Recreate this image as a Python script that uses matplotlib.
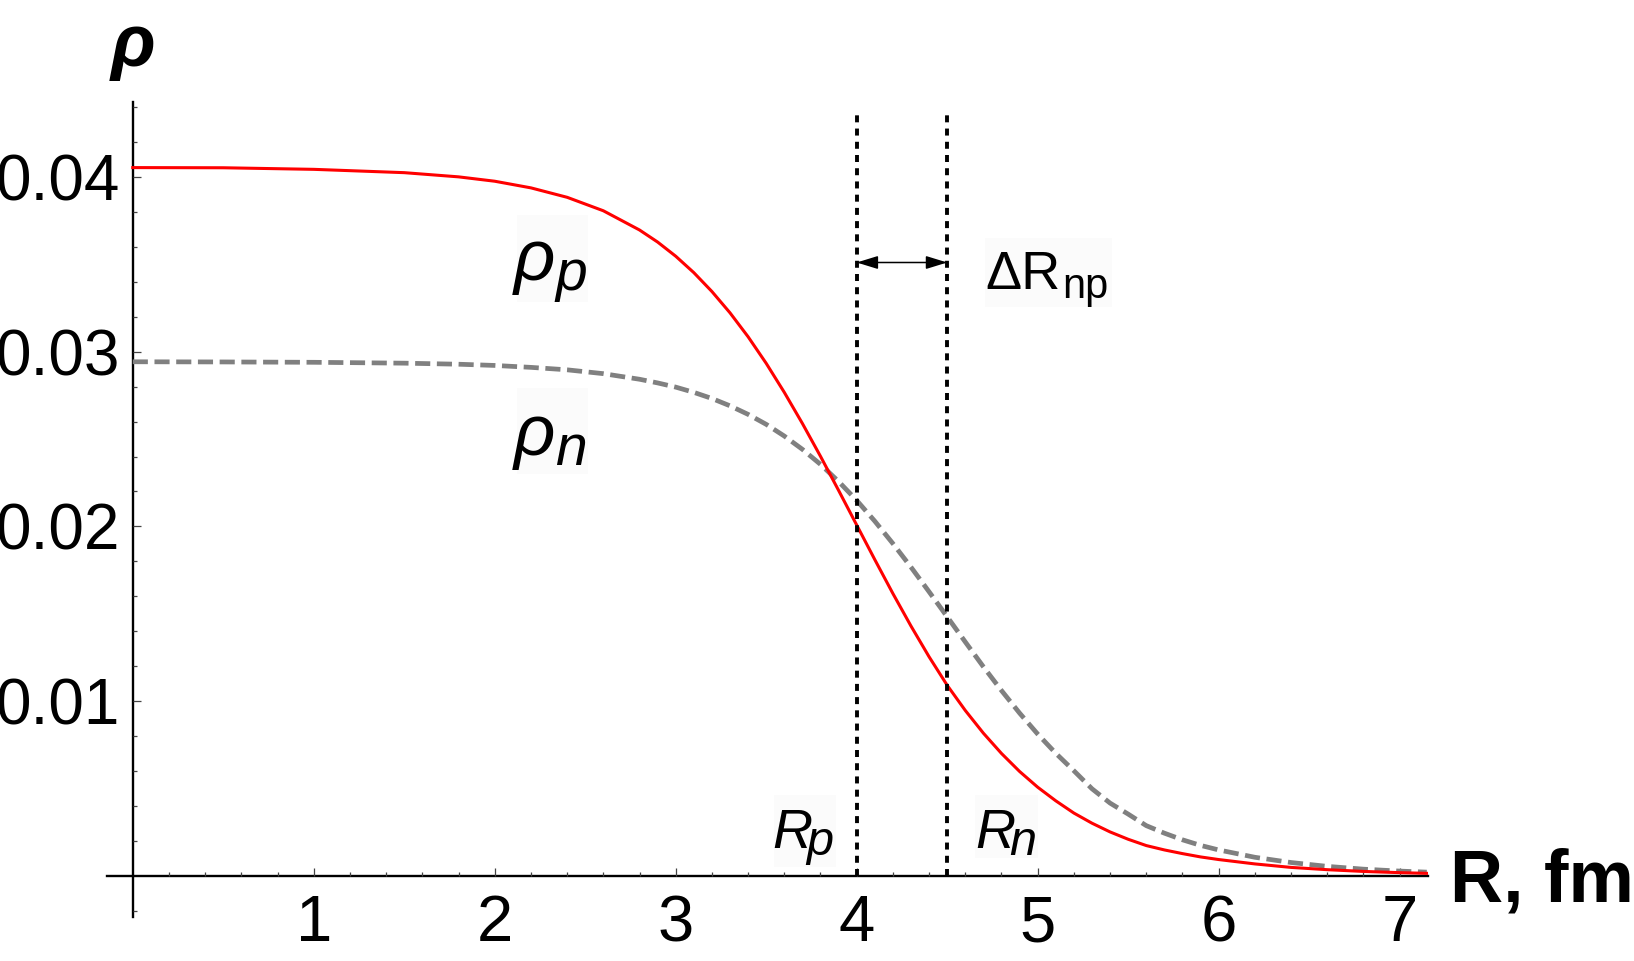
import numpy as np
import matplotlib
matplotlib.use("Agg")
import matplotlib.pyplot as plt
from matplotlib.ticker import FixedLocator, FixedFormatter, NullFormatter
from matplotlib.patches import Rectangle

# ---------------- data ----------------
r_fm = [0.0, 0.5, 1.0, 1.5, 1.8, 2.0, 2.2, 2.4, 2.6, 2.8, 2.9,
        3.0, 3.1, 3.2, 3.3, 3.4, 3.5, 3.6, 3.7, 3.8, 3.9,
        4.0, 4.1, 4.2, 4.3, 4.4, 4.5, 4.6, 4.7, 4.8, 4.9,
        5.0, 5.1, 5.2, 5.3, 5.4, 5.5, 5.6, 5.7, 5.8, 5.9,
        6.0, 6.2, 6.4, 6.6, 6.8, 7.0, 7.15]
rho_p = [0.04053, 0.04052, 0.04043, 0.04024, 0.04000, 0.03975, 0.03937,
         0.03883, 0.03806, 0.03696, 0.03627,
         0.03546, 0.03452, 0.03344, 0.03222, 0.03085, 0.02933, 0.02767,
         0.02589, 0.02401, 0.02206,
         0.02008, 0.01810, 0.01616, 0.01430, 0.01254, 0.01091, 0.00947,
         0.00817, 0.00701, 0.00598,
         0.00508, 0.00430, 0.00360, 0.00302, 0.00252, 0.00210, 0.00174,
         0.00149, 0.00128, 0.00109,
         0.00094, 0.00069, 0.00049, 0.00036, 0.00026, 0.00019, 0.00015]
rho_n = [0.02942, 0.02941, 0.02939, 0.02934, 0.02928, 0.02921, 0.02910,
         0.02896, 0.02874, 0.02842, 0.02821,
         0.02797, 0.02767, 0.02732, 0.02690, 0.02641, 0.02584, 0.02517,
         0.02441, 0.02355, 0.02257,
         0.02149, 0.02030, 0.01902, 0.01767, 0.01626, 0.01483, 0.01339,
         0.01197, 0.01061, 0.00932,
         0.00812, 0.00702, 0.00602, 0.00499, 0.00417, 0.00354, 0.00288,
         0.00245, 0.00207, 0.00175,
         0.00149, 0.00107, 0.00077, 0.00055, 0.00039, 0.00028, 0.00022]

R_p = 4.0
R_n = 4.5
arrow_level = 0.0351
guide_top = 0.0436

x_major = [1, 2, 3, 4, 5, 6, 7]
x_labels = ["1", "2", "3", "4", "5", "6", "7"]
y_major = [0.01, 0.02, 0.03, 0.04]
y_labels = ["0.01", "0.02", "0.03", "0.04"]

# ---------------- figure ----------------
plt.rcParams["font.family"] = ["Liberation Sans", "DejaVu Sans"]
W, H = 1634, 961
fig = plt.figure(figsize=(W / 100, H / 100), dpi=100)
left, right, top, bottom = 106.7, 1427.7, 101.7, 916.7
ax = fig.add_axes([left / W, 1 - bottom / H, (right - left) / W, (bottom - top) / H])
ax.set_xlim(-0.144, 7.155)
ax.set_ylim(-0.00233, 0.0443)

ax.plot(r_fm, rho_n, color="#808080", lw=3.4, linestyle=(0, (3.2, 1.4)),
        dash_capstyle="butt", solid_joinstyle="round", zorder=2)
ax.plot(r_fm, rho_p, color="#ff0000", lw=2.2, solid_joinstyle="round", zorder=3)

for xv in (R_p, R_n):
    ax.plot([xv, xv], [0, guide_top], color="black", lw=2.8,
            linestyle=(0, (1.8, 1.6)), dash_capstyle="butt", zorder=4)

ax.annotate("", xy=(R_p, arrow_level), xytext=(R_n, arrow_level),
            arrowprops=dict(arrowstyle="<|-|>,head_length=0.65,head_width=0.2",
                            color="black", lw=1.1, mutation_scale=20,
                            shrinkA=0, shrinkB=0), zorder=5)

# axes through the origin
for s in ("top", "right"):
    ax.spines[s].set_visible(False)
ax.spines["left"].set_position(("data", 0))
ax.spines["bottom"].set_position(("data", 0))
for s in ("left", "bottom"):
    ax.spines[s].set_linewidth(1.7)
    ax.spines[s].set_color("black")
    ax.spines[s].set_zorder(1)

ax.xaxis.set_major_locator(FixedLocator(x_major))
ax.xaxis.set_major_formatter(FixedFormatter(x_labels))
ax.xaxis.set_minor_locator(FixedLocator(np.round(np.arange(0.2, 7.15, 0.2), 2)))
ax.yaxis.set_major_locator(FixedLocator(y_major))
ax.yaxis.set_major_formatter(FixedFormatter(y_labels))
ax.yaxis.set_minor_locator(FixedLocator([v for v in np.round(np.arange(-0.002, 0.0445, 0.002), 4) if abs(v) > 1e-9]))
ax.xaxis.set_minor_formatter(NullFormatter())
ax.yaxis.set_minor_formatter(NullFormatter())

ax.tick_params(which="major", direction="in", length=5.8, width=0.9, color="#444444",
               labelcolor="black")
ax.tick_params(which="minor", direction="in", length=2.9, width=0.9, color="#444444")
ax.tick_params(axis="x", which="major", pad=13, labelsize=47)
ax.tick_params(axis="y", which="major", pad=9, labelsize=46)


def put(px, py, s, size, **kw):
    fig.text(px / W, 1 - py / H, s, fontsize=size, ha="left", va="baseline", **kw)


def box(x0, y0, x1, y1):
    fig.patches.append(Rectangle((x0 / W, 1 - y1 / H), (x1 - x0) / W, (y1 - y0) / H,
                                 transform=fig.transFigure, facecolor="#fbfbfb",
                                 edgecolor="none", zorder=0))


# axis titles
put(111, 66, "ρ", 53, fontweight="bold", fontstyle="italic")
put(1450, 901.7, "R, fm", 53, fontweight="bold")

# curve labels
box(517, 215, 588, 302)
put(514, 280, "ρ", 52, fontstyle="italic")
put(555, 290, "p", 41, fontstyle="italic")
box(517, 388, 588, 474)
put(514, 455, "ρ", 52, fontstyle="italic")
put(555, 465, "n", 41, fontstyle="italic")

box(774, 795, 836, 867)
put(772, 848.3, "R", 40, fontstyle="italic")
put(806, 855, "p", 35, fontstyle="italic")
box(975, 795, 1038, 858)
put(975, 848.3, "R", 40, fontstyle="italic")
put(1009, 855, "n", 35, fontstyle="italic")

box(985, 238, 1112, 307)
put(985, 289.3, "ΔR", 39)
put(1062, 298, "np", 30)

fig.savefig("out.png", dpi=100)
